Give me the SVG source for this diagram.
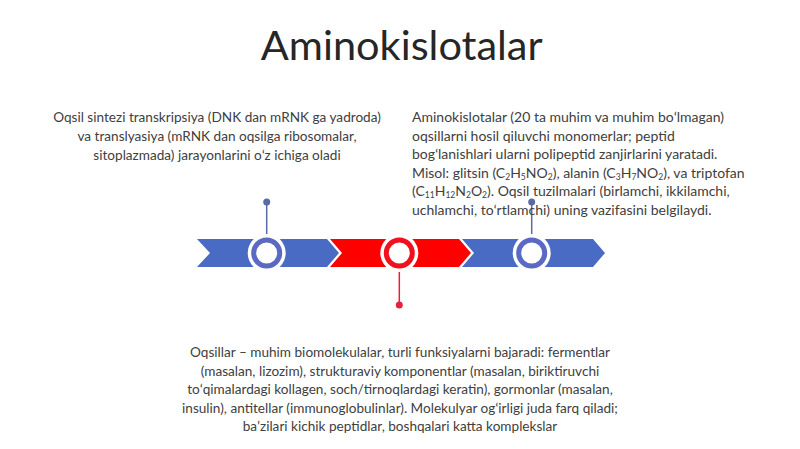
<svg xmlns="http://www.w3.org/2000/svg" width="800" height="449" viewBox="0 0 800 449">
<style>
.t{font-family:Lato,"Open Sans",sans-serif;font-size:13.6px;fill:#404040}
.r{font-size:14px}
.c{text-anchor:middle}
.s{font-size:8.5px}
</style>
<rect width="800" height="449" fill="#ffffff"/>
<text x="401.7" y="60" font-family="Lato,'Open Sans',sans-serif" font-size="41.5" fill="#262626" text-anchor="middle">Aminokislotalar</text>
<g id="band">
<polygon points="197,239 327,239 339,253 327,267 197,267 210,253" fill="#4a6bc4"/>
<polygon points="330,239 459,239 471,253 459,267 330,267 342,253" fill="#ff0000"/>
<polygon points="462,239 593,239 605,253 593,267 462,267 474,253" fill="#4a6bc4"/>
</g>
<g id="connectors">
<line x1="266.7" y1="202" x2="266.7" y2="238" stroke="#5a6aa8" stroke-width="1.5"/>
<circle cx="266.7" cy="202" r="3.5" fill="#5a6aa8"/>
<line x1="531.7" y1="202" x2="531.7" y2="238" stroke="#5a6aa8" stroke-width="1.5"/>
<circle cx="531.7" cy="202" r="3.5" fill="#5a6aa8"/>
<line x1="399.3" y1="268" x2="399.3" y2="305" stroke="#e8203a" stroke-width="1.5"/>
<circle cx="399.3" cy="305" r="3.5" fill="#e8203a"/>
</g>
<g id="node1">
<circle cx="266.7" cy="253" r="19" fill="#ffffff"/>
<circle cx="266.7" cy="253" r="13" fill="#ffffff" stroke="#5a6ac4" stroke-width="5"/>
</g>
<g id="node2">
<circle cx="399.3" cy="253" r="19" fill="#ffffff"/>
<circle cx="399.3" cy="253" r="13" fill="#ffffff" stroke="#f01020" stroke-width="5"/>
</g>
<g id="node3">
<circle cx="531.7" cy="253" r="19" fill="#ffffff"/>
<circle cx="531.7" cy="253" r="13" fill="#ffffff" stroke="#5a6ac4" stroke-width="5"/>
</g>
<g id="text1">
<text class="t c" x="217" y="122">Oqsil sintezi transkripsiya (DNK dan mRNK ga yadroda)</text>
<text class="t c" x="217" y="141">va translyasiya (mRNK dan oqsilga ribosomalar,</text>
<text class="t c" x="217" y="159.5">sitoplazmada) jarayonlarini oʻz ichiga oladi</text>
</g>
<g id="text2">
<text class="t r" x="412" y="122">Aminokislotalar (20 ta muhim va muhim boʻlmagan)</text>
<text class="t r" x="412" y="140.5">oqsillarni hosil qiluvchi monomerlar; peptid</text>
<text class="t r" x="412" y="159">bogʻlanishlari ularni polipeptid zanjirlarini yaratadi.</text>
<text class="t r" x="412" y="177.5">Misol: glitsin (C<tspan class="s" dy="2">2</tspan><tspan dy="-2">H</tspan><tspan class="s" dy="2">5</tspan><tspan dy="-2">NO</tspan><tspan class="s" dy="2">2</tspan><tspan dy="-2">), alanin (C</tspan><tspan class="s" dy="2">3</tspan><tspan dy="-2">H</tspan><tspan class="s" dy="2">7</tspan><tspan dy="-2">NO</tspan><tspan class="s" dy="2">2</tspan><tspan dy="-2">), va triptofan</tspan></text>
<text class="t r" x="412" y="196">(C<tspan class="s" dy="2">11</tspan><tspan dy="-2">H</tspan><tspan class="s" dy="2">12</tspan><tspan dy="-2">N</tspan><tspan class="s" dy="2">2</tspan><tspan dy="-2">O</tspan><tspan class="s" dy="2">2</tspan><tspan dy="-2">). Oqsil tuzilmalari (birlamchi, ikkilamchi,</tspan></text>
<text class="t r" x="412" y="214.5">uchlamchi, toʻrtlamchi) uning vazifasini belgilaydi.</text>
</g>
<g id="text3">
<text class="t c" x="400" y="357">Oqsillar – muhim biomolekulalar, turli funksiyalarni bajaradi: fermentlar</text>
<text class="t c" x="400" y="375.5">(masalan, lizozim), strukturaviy komponentlar (masalan, biriktiruvchi</text>
<text class="t c" x="400" y="394">toʻqimalardagi kollagen, soch/tirnoqlardagi keratin), gormonlar (masalan,</text>
<text class="t c" x="400" y="412.5">insulin), antitellar (immunoglobulinlar). Molekulyar ogʻirligi juda farq qiladi;</text>
<text class="t c" x="400" y="431">baʼzilari kichik peptidlar, boshqalari katta komplekslar</text>
</g>
</svg>
